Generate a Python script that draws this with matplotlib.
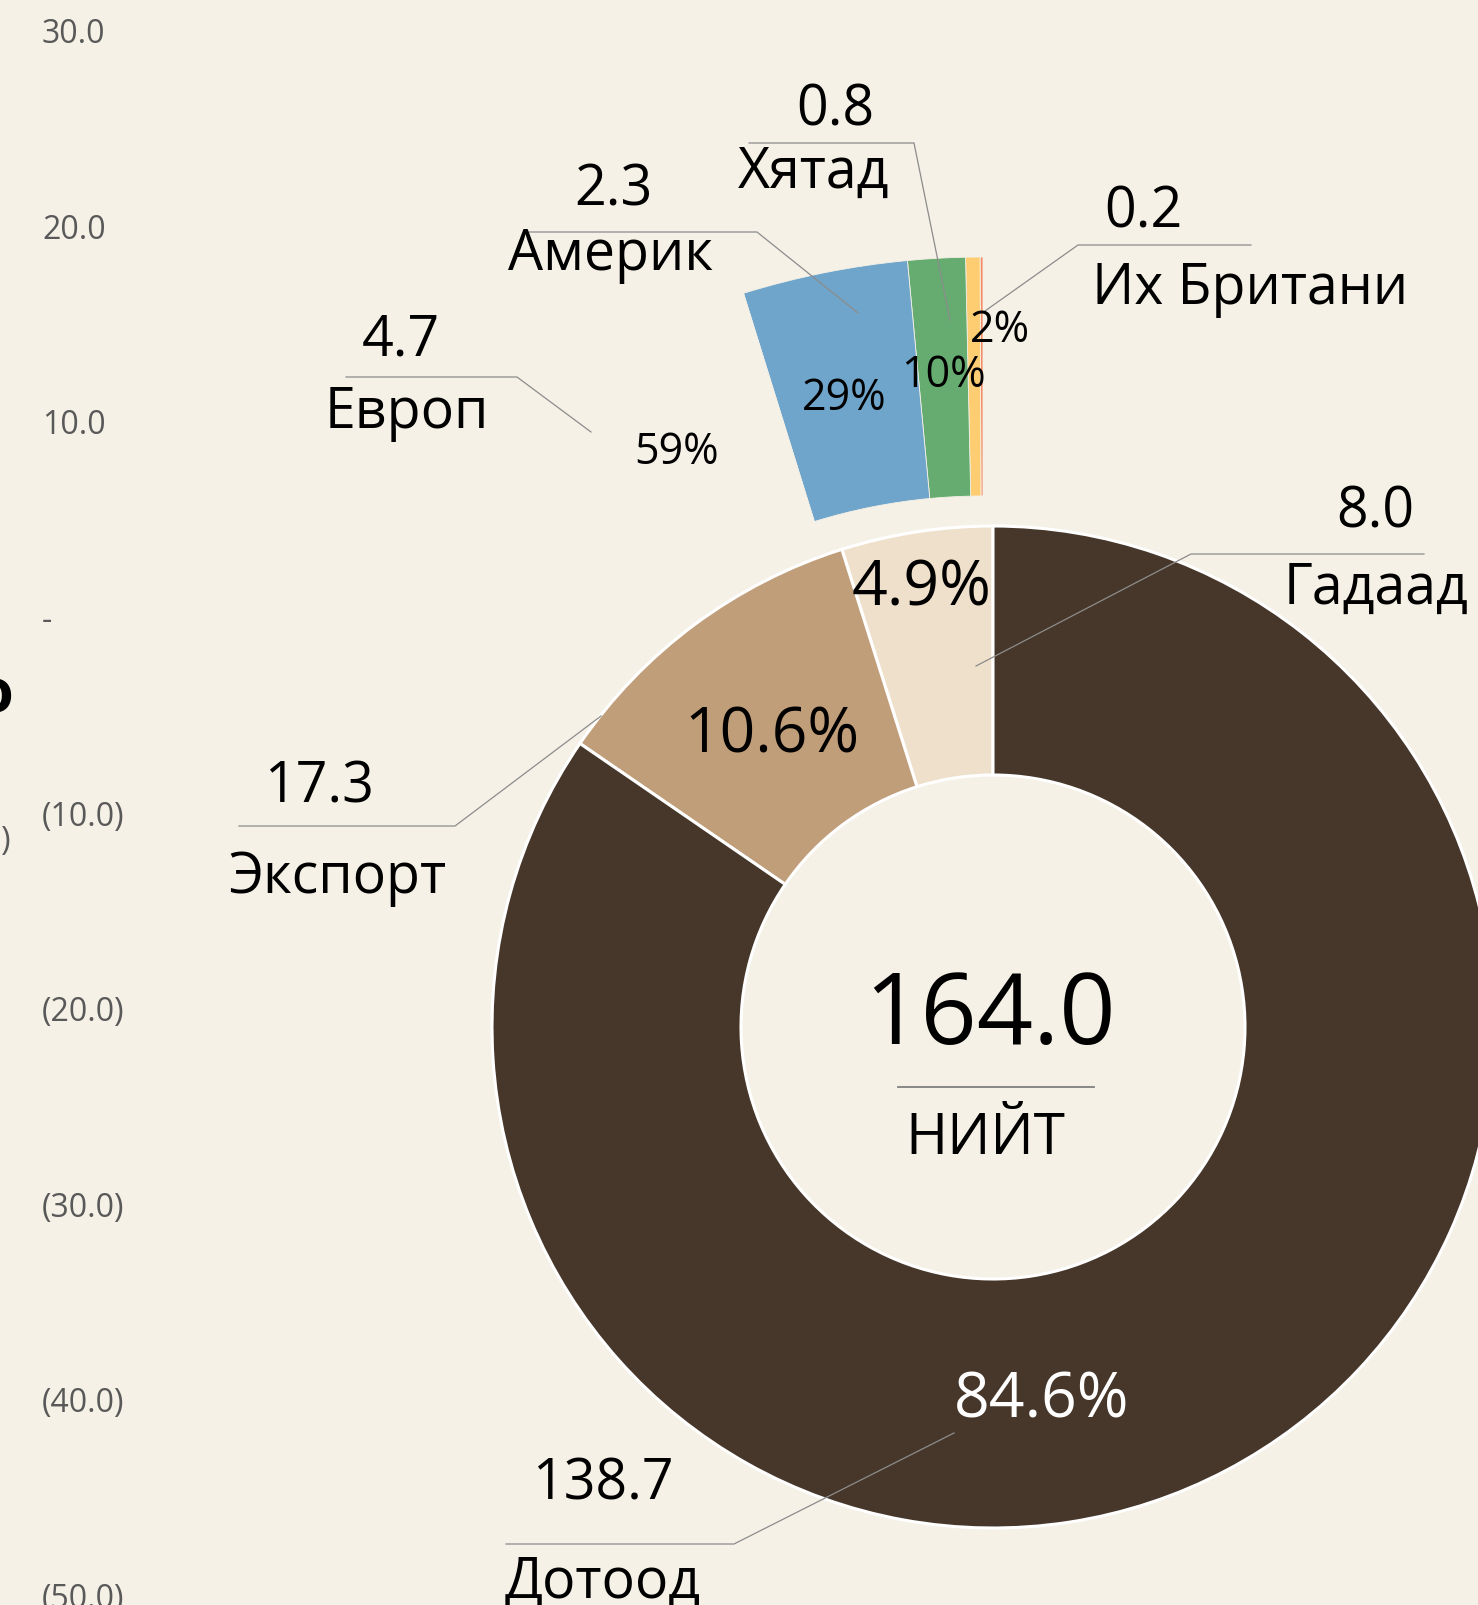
import matplotlib as mpl
mpl.use('Agg')
import matplotlib.pyplot as plt

plt.rcParams['font.family'] = ['Open Sans', 'DejaVu Sans']

# 主環形圖資料
main_labels = ['Гадаад', 'Экспорт', 'Дотоод']
main_values = [8.0, 17.3, 138.7]
main_pct = ['4.9%', '10.6%', '84.6%']
main_colors = ['#EFE0CB', '#C19E7A', '#47372A']
total_value = '164.0'
total_label = 'НИЙТ'

# 外圈：Гадаад 分解
sub_labels = ['Европ', 'Америк', 'Хятад', 'Их Британи']
sub_values = [4.7, 2.3, 0.8, 0.2]
sub_pct = ['59%', '29%', '10%', '2%']
sub_colors = ['none', '#6FA5CA', '#66AC70', '#FECD72']
sub_other = 0.04            # 右側細條（估計值）
other_color = '#F58B63'

# 左側刻度
tick_values = [30, 20, 10, 0, -10, -20, -30, -40, -50]

bg = '#F5F1E7'
W, H = 1478, 1606


def fmt(v):
    if v == 0:
        return '-'
    if v < 0:
        return '(%.1f)' % (-v)
    return '%.1f' % v


fig = plt.figure(figsize=(W / 100, H / 100), dpi=100)
fig.patch.set_facecolor(bg)

# 左側刻度軸
axt = fig.add_axes([42 / W, 0, 0.05, 1])
axt.set_ylim(-50.54, 31.57)
axt.set_yticks(tick_values)
axt.set_yticklabels([fmt(v) for v in tick_values])
axt.tick_params(axis='y', length=0, pad=0, labelsize=23, labelcolor='#595959')
for t in axt.get_yticklabels():
    t.set_ha('left')
axt.set_xticks([])
for s in axt.spines.values():
    s.set_visible(False)
axt.patch.set_visible(False)

# 主畫布（像素座標）
ax = fig.add_axes([0, 0, 1, 1])
ax.patch.set_visible(False)

ax.pie(main_values, colors=main_colors, startangle=90, counterclock=True,
       radius=501, center=(993, H - 1028),
       wedgeprops=dict(width=249, edgecolor='white', linewidth=2.2))

# 外圈扇形（從右側開始逆時針）
span = 41.5
draw_vals = [sub_other] + sub_values[::-1]
draw_cols = [other_color] + sub_colors[::-1]
fracs = [v / sum(draw_vals) * span / 360 for v in draw_vals]
ax.pie(fracs, colors=draw_cols, startangle=90, counterclock=True,
       normalize=False, radius=808, center=(983, H - 1066),
       wedgeprops=dict(width=239, edgecolor=bg, linewidth=0.6))

ax.set_xlim(0, W)
ax.set_ylim(0, H)
ax.set_aspect('auto')
ax.axis('off')


def T(x, y, s, size=40, color='black', **kw):
    ax.text(x, H - y, s, ha='center', va='baseline', fontsize=size,
            color=color, **kw)


def L(pts):
    ax.plot([p[0] for p in pts], [H - p[1] for p in pts],
            color='#8C8C8C', lw=0.9)


# 主圈百分比
T(922, 606, main_pct[0], 45)
T(772, 753, main_pct[1], 45)
T(1042, 1418, main_pct[2], 45, color='white')

# 中央總計
T(990, 1044, total_value, 71)
ax.plot([898, 1094], [H - 1088, H - 1088], color='#7F7F7F', lw=1.3)
T(985, 1154, total_label, 41)

# 主圈標籤
T(1375, 527, '%.1f' % main_values[0])
T(1376, 604, main_labels[0])
L([(1424, 555), (1191, 555), (976, 667)])

T(319, 803, '%.1f' % main_values[1])
T(337, 893, main_labels[1])
L([(239, 827), (455, 827), (601, 717)])

T(603, 1500, '%.1f' % main_values[2])
T(603, 1598, main_labels[2])
L([(506, 1545), (734, 1545), (954, 1434)])

# 外圈百分比
T(677, 464, sub_pct[0], 31)
T(844, 410, sub_pct[1], 31)
T(943, 387, sub_pct[2], 31)
T(1000, 342, sub_pct[3], 31)

# 外圈標籤
T(401, 356, '%.1f' % sub_values[0])
T(407, 428, sub_labels[0])
L([(346, 378), (517, 378), (591, 433)])

T(613, 205, '%.1f' % sub_values[1])
T(610, 270, sub_labels[1])
L([(529, 233), (757, 233), (858, 314)])

T(835, 126, '%.1f' % sub_values[2])
T(814, 188, sub_labels[2])
L([(749, 144), (914, 144), (950, 321)])

T(1143, 227, '%.1f' % sub_values[3])
T(1250, 304, sub_labels[3])
L([(1251, 246), (1078, 246), (985, 312)])

# 左邊緣被裁切的文字
ax.text(13, H - 713, 'о', ha='right', va='baseline', fontsize=44,
        fontweight='bold', color='black')
ax.text(11, H - 850, '(10.0)', ha='right', va='baseline', fontsize=23,
        color='#595959')

plt.savefig('out.png', dpi=100, facecolor=bg)
plt.close()
